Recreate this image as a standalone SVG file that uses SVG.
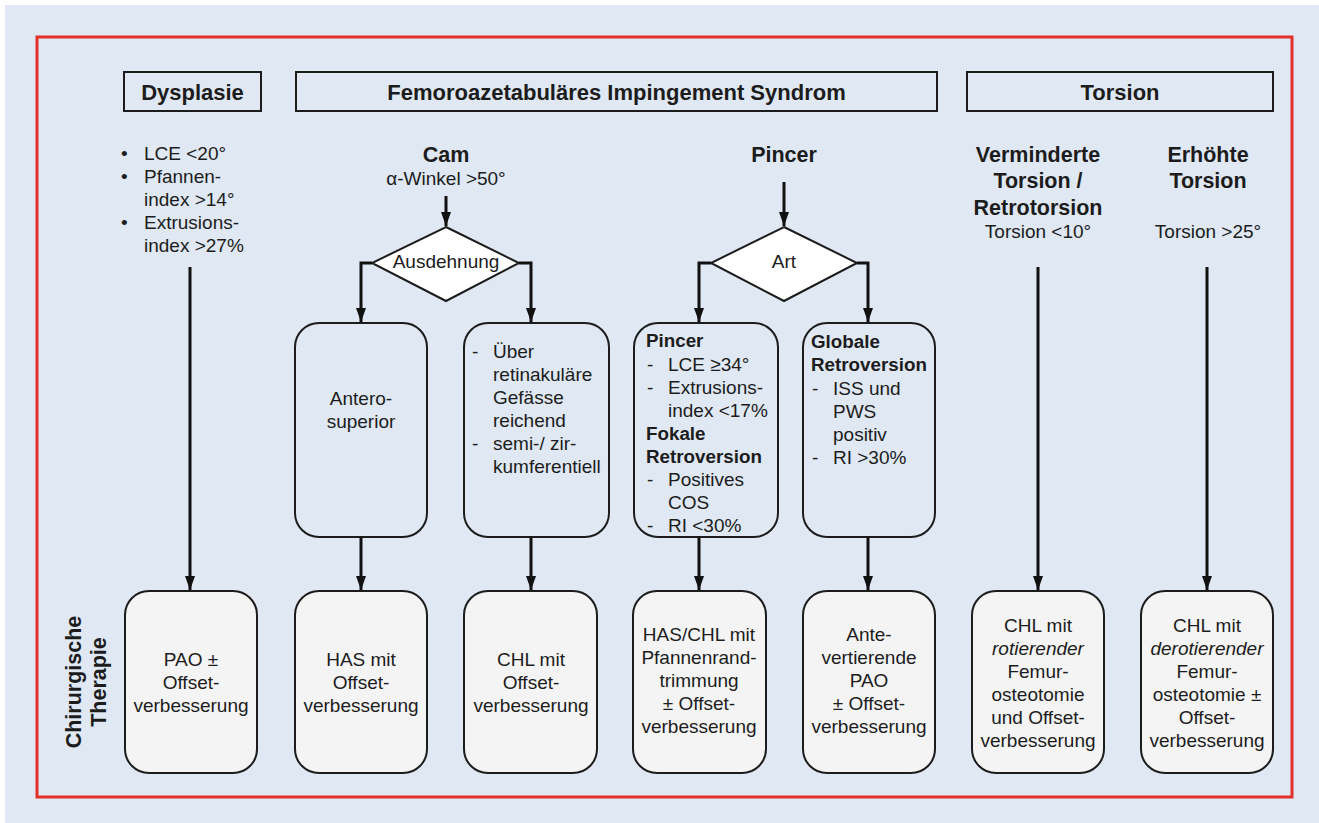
<svg xmlns="http://www.w3.org/2000/svg" width="1319" height="823" viewBox="0 0 1319 823">
<style>
text{font-family:"Liberation Sans",Arial,Helvetica,sans-serif;fill:#1c1c1c}
.r{font-size:19px}
.b{font-size:18.8px;font-weight:bold}
.h{font-size:22px;font-weight:bold}
.v{font-size:21.5px;font-weight:bold}
.c{text-anchor:middle}
.i{font-style:italic}
.hdr{fill:none;stroke:#1c1c1c;stroke-width:2}
.mid{fill:none;stroke:#1c1c1c;stroke-width:2}
.bot{fill:#f4f4f4;stroke:#1c1c1c;stroke-width:2}
.dia{fill:#ffffff;stroke:#1c1c1c;stroke-width:2}
.con{fill:none;stroke:#111;stroke-width:3}
</style>
<defs>
<marker id="ah" markerUnits="userSpaceOnUse" markerWidth="14" markerHeight="10" refX="14" refY="5" orient="auto" overflow="visible">
<path d="M0,0 L14,5 L0,10 z" fill="#111"/>
</marker>
</defs>
<rect x="0" y="0" width="1319" height="823" fill="#ffffff"/>
<rect x="5" y="5" width="1314" height="818" fill="#dfe8f3"/>
<rect x="37" y="37" width="1255" height="760" fill="none" stroke="#e2312a" stroke-width="3"/>

<g id="hdr-dysplasie"><rect class="hdr" x="124" y="72" width="137" height="39"/><text class="h c" x="192.5" y="100">Dysplasie</text></g>
<g id="hdr-fai"><rect class="hdr" x="296" y="72" width="641" height="39"/><text class="h c" x="616.5" y="100">Femoroazetabuläres Impingement Syndrom</text></g>
<g id="hdr-torsion"><rect class="hdr" x="967" y="72" width="306" height="39"/><text class="h c" x="1120" y="100">Torsion</text></g>

<g id="dysplasie-criteria">
<text class="r" x="121" y="160">•</text><text class="r" x="144" y="160">LCE &lt;20°</text>
<text class="r" x="121" y="183">•</text><text class="r" x="144" y="183">Pfannen-</text>
<text class="r" x="144" y="206">index &gt;14°</text>
<text class="r" x="121" y="229">•</text><text class="r" x="144" y="229">Extrusions-</text>
<text class="r" x="144" y="252">index &gt;27%</text>
</g>

<g id="cam-label"><text class="v c" x="446" y="162">Cam</text><text class="r c" x="446" y="185">α-Winkel &gt;50°</text></g>
<g id="pincer-label"><text class="v c" x="784" y="162">Pincer</text></g>
<g id="verm-label"><text class="v c" x="1038" y="162">Verminderte</text><text class="v c" x="1038" y="188">Torsion /</text><text class="v c" x="1038" y="215">Retrotorsion</text><text class="r c" x="1038" y="238">Torsion &lt;10°</text></g>
<g id="erh-label"><text class="v c" x="1208" y="162">Erhöhte</text><text class="v c" x="1208" y="188">Torsion</text><text class="r c" x="1208" y="238">Torsion &gt;25°</text></g>

<g id="dia-ausdehnung"><polygon class="dia" points="446,227 519,263 446,301 372,263"/><text class="r c" x="446" y="268">Ausdehnung</text></g>
<g id="dia-art"><polygon class="dia" points="784,227 857,263 784,301 711,263"/><text class="r c" x="784" y="268">Art</text></g>

<g id="box-antero"><rect class="mid" x="295" y="323" width="132" height="214" rx="24"/><text class="r c" x="361" y="405">Antero-</text><text class="r c" x="361" y="428">superior</text></g>
<g id="box-ueber"><rect class="mid" x="464" y="323" width="145" height="214" rx="24"/>
<text class="r" x="472" y="358">-</text><text class="r" x="493" y="358">Über</text>
<text class="r" x="493" y="381">retinakuläre</text>
<text class="r" x="493" y="404">Gefässe</text>
<text class="r" x="493" y="427">reichend</text>
<text class="r" x="472" y="450">-</text><text class="r" x="493" y="450">semi-/ zir-</text>
<text class="r" x="493" y="473">kumferentiell</text>
</g>
<g id="box-pincer"><rect class="mid" x="634" y="323" width="144" height="214" rx="24"/>
<text class="b" x="646" y="347">Pincer</text>
<text class="r" x="647" y="371">-</text><text class="r" x="668" y="371">LCE ≥34°</text>
<text class="r" x="647" y="394">-</text><text class="r" x="668" y="394">Extrusions-</text>
<text class="r" x="668" y="417">index &lt;17%</text>
<text class="b" x="646" y="440">Fokale</text>
<text class="b" x="646" y="463">Retroversion</text>
<text class="r" x="647" y="486">-</text><text class="r" x="668" y="486">Positives</text>
<text class="r" x="668" y="509">COS</text>
<text class="r" x="647" y="532">-</text><text class="r" x="668" y="532">RI &lt;30%</text>
</g>
<g id="box-globale"><rect class="mid" x="803" y="323" width="132" height="214" rx="24"/>
<text class="b" x="811" y="348">Globale</text>
<text class="b" x="811" y="371">Retroversion</text>
<text class="r" x="812" y="395">-</text><text class="r" x="833" y="395">ISS und</text>
<text class="r" x="833" y="418">PWS</text>
<text class="r" x="833" y="441">positiv</text>
<text class="r" x="812" y="464">-</text><text class="r" x="833" y="464">RI &gt;30%</text>
</g>

<g id="therapie-label"><text class="v c" transform="translate(81,682) rotate(-90)">Chirurgische</text><text class="v c" transform="translate(106,682) rotate(-90)">Therapie</text></g>

<g id="t-pao"><rect class="bot" x="125" y="591" width="132" height="182" rx="24"/><text class="r c" x="191" y="666">PAO ±</text><text class="r c" x="191" y="689">Offset-</text><text class="r c" x="191" y="712">verbesserung</text></g>
<g id="t-has"><rect class="bot" x="295" y="591" width="132" height="182" rx="24"/><text class="r c" x="361" y="666">HAS mit</text><text class="r c" x="361" y="689">Offset-</text><text class="r c" x="361" y="712">verbesserung</text></g>
<g id="t-chl"><rect class="bot" x="464" y="591" width="133" height="182" rx="24"/><text class="r c" x="531" y="666">CHL mit</text><text class="r c" x="531" y="689">Offset-</text><text class="r c" x="531" y="712">verbesserung</text></g>
<g id="t-hasChl"><rect class="bot" x="633" y="591" width="133" height="182" rx="24"/><text class="r c" x="699" y="641">HAS/CHL mit</text><text class="r c" x="699" y="664">Pfannenrand-</text><text class="r c" x="699" y="687">trimmung</text><text class="r c" x="699" y="710">± Offset-</text><text class="r c" x="699" y="733">verbesserung</text></g>
<g id="t-antePao"><rect class="bot" x="803" y="591" width="132" height="182" rx="24"/><text class="r c" x="869" y="641">Ante-</text><text class="r c" x="869" y="664">vertierende</text><text class="r c" x="869" y="687">PAO</text><text class="r c" x="869" y="710">± Offset-</text><text class="r c" x="869" y="733">verbesserung</text></g>
<g id="t-rot"><rect class="bot" x="972" y="591" width="132" height="182" rx="24"/><text class="r c" x="1038" y="632">CHL mit</text><text class="r c i" x="1038" y="655">rotierender</text><text class="r c" x="1038" y="678">Femur-</text><text class="r c" x="1038" y="701">osteotomie</text><text class="r c" x="1038" y="724">und Offset-</text><text class="r c" x="1038" y="747">verbesserung</text></g>
<g id="t-derot"><rect class="bot" x="1141" y="591" width="132" height="182" rx="24"/><text class="r c" x="1207" y="632">CHL mit</text><text class="r c i" x="1207" y="655">derotierender</text><text class="r c" x="1207" y="678">Femur-</text><text class="r c" x="1207" y="701">osteotomie ±</text><text class="r c" x="1207" y="724">Offset-</text><text class="r c" x="1207" y="747">verbesserung</text></g>

<g id="connectors">
<path class="con" d="M190,267 V590" marker-end="url(#ah)"/>
<path class="con" d="M446,196 V226" marker-end="url(#ah)"/>
<path class="con" d="M372,263 H361 V322" marker-end="url(#ah)"/>
<path class="con" d="M519,263 H531 V322" marker-end="url(#ah)"/>
<path class="con" d="M784,182 V226" marker-end="url(#ah)"/>
<path class="con" d="M711,263 H699 V322" marker-end="url(#ah)"/>
<path class="con" d="M857,263 H868 V322" marker-end="url(#ah)"/>
<path class="con" d="M361,537 V590" marker-end="url(#ah)"/>
<path class="con" d="M531,537 V590" marker-end="url(#ah)"/>
<path class="con" d="M699,537 V590" marker-end="url(#ah)"/>
<path class="con" d="M868,537 V590" marker-end="url(#ah)"/>
<path class="con" d="M1038,267 V590" marker-end="url(#ah)"/>
<path class="con" d="M1207,267 V590" marker-end="url(#ah)"/>
</g>
</svg>
